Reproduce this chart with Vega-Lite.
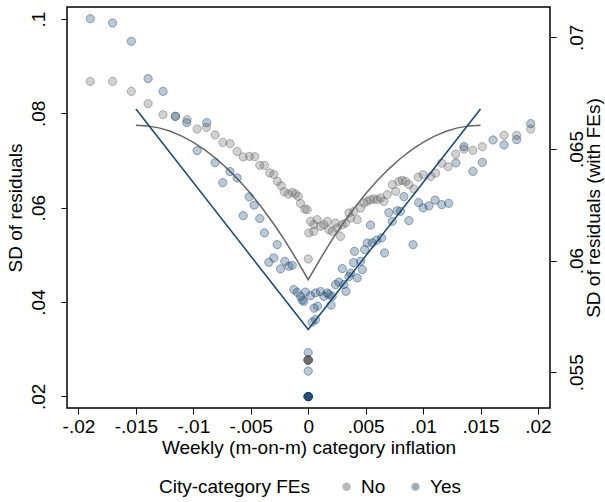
{
  "$schema": "https://vega.github.io/schema/vega-lite/v6.json",
  "width": 483,
  "height": 401,
  "autosize": {"type": "none"},
  "padding": {"left": 67, "top": 7, "right": 55, "bottom": 94},
  "background": "white",
  "config": {
    "font": "Liberation Sans",
    "view": {"stroke": "#000000", "strokeWidth": 1.5},
    "axis": {
      "grid": false, "domain": false, "tickColor": "#000000", "tickSize": 6, "tickWidth": 1,
      "labelColor": "#000000", "titleColor": "#000000", "labelFontSize": 19, "titleFontSize": 19,
      "titleFontWeight": "normal", "labelFont": "Liberation Sans", "titleFont": "Liberation Sans"
    },
    "legend": {
      "labelFont": "Liberation Sans", "titleFont": "Liberation Sans", "labelFontSize": 19, "titleFontSize": 19,
      "titleFontWeight": "normal", "labelColor": "#000000", "titleColor": "#000000"
    }
  },
  "datasets": {
    "gray": [
      {"x": -0.01897, "y": 0.08677}, {"x": -0.01703, "y": 0.08677}, {"x": -0.0154, "y": 0.08465}, {"x": -0.01394, "y": 0.08205},
      {"x": -0.01264, "y": 0.07971}, {"x": -0.01156, "y": 0.07935}, {"x": -0.01054, "y": 0.07865}, {"x": -0.00967, "y": 0.07668},
      {"x": -0.00886, "y": 0.07702}, {"x": -0.0081, "y": 0.07541}, {"x": -0.00744, "y": 0.07384}, {"x": -0.0068, "y": 0.07357},
      {"x": -0.00619, "y": 0.07193}, {"x": -0.00566, "y": 0.07075}, {"x": -0.00512, "y": 0.07087}, {"x": -0.00465, "y": 0.07081},
      {"x": -0.00422, "y": 0.06897}, {"x": -0.00381, "y": 0.06897}, {"x": -0.00335, "y": 0.06736}, {"x": -0.003, "y": 0.06706},
      {"x": -0.00268, "y": 0.06558}, {"x": -0.00235, "y": 0.06466}, {"x": -0.00209, "y": 0.06339}, {"x": -0.00174, "y": 0.0629},
      {"x": -0.00139, "y": 0.06324}, {"x": -0.00111, "y": 0.0629}, {"x": -0.00087, "y": 0.0624}, {"x": -0.00067, "y": 0.06091},
      {"x": -0.0003, "y": 0.05972}, {"x": -0.00009, "y": 0.05958}, {"x": 0, "y": 0.04913},
      {"x": 0.00005, "y": 0.05464}, {"x": 0.0002, "y": 0.0571}, {"x": 0.00049, "y": 0.05498}, {"x": 0.00049, "y": 0.0564},
      {"x": 0.00078, "y": 0.05746}, {"x": 0.00107, "y": 0.05604}, {"x": 0.00136, "y": 0.0564}, {"x": 0.00166, "y": 0.0571},
      {"x": 0.0018, "y": 0.05534}, {"x": 0.00209, "y": 0.05498}, {"x": 0.00238, "y": 0.05676}, {"x": 0.00253, "y": 0.0557},
      {"x": 0.00281, "y": 0.05392}, {"x": 0.00296, "y": 0.0564}, {"x": 0.00325, "y": 0.05676}, {"x": 0.00354, "y": 0.05888},
      {"x": 0.00369, "y": 0.05782}, {"x": 0.00397, "y": 0.05922}, {"x": 0.00427, "y": 0.05746}, {"x": 0.00456, "y": 0.05994},
      {"x": 0.00485, "y": 0.061}, {"x": 0.00514, "y": 0.06134}, {"x": 0.00543, "y": 0.0617}, {"x": 0.00572, "y": 0.06184},
      {"x": 0.00601, "y": 0.0617}, {"x": 0.0063, "y": 0.06206}, {"x": 0.00659, "y": 0.06134}, {"x": 0.00688, "y": 0.06276},
      {"x": 0.00732, "y": 0.06488}, {"x": 0.00761, "y": 0.06346}, {"x": 0.0079, "y": 0.06558}, {"x": 0.00819, "y": 0.06579},
      {"x": 0.00848, "y": 0.06558}, {"x": 0.00877, "y": 0.06488}, {"x": 0.0092, "y": 0.06396}, {"x": 0.00957, "y": 0.06647},
      {"x": 0.01, "y": 0.067}, {"x": 0.01066, "y": 0.06664}, {"x": 0.01109, "y": 0.06731}, {"x": 0.01162, "y": 0.06943},
      {"x": 0.01218, "y": 0.06869}, {"x": 0.01284, "y": 0.07134}, {"x": 0.01356, "y": 0.0724}, {"x": 0.01434, "y": 0.07215},
      {"x": 0.01516, "y": 0.07293}, {"x": 0.01705, "y": 0.07533}, {"x": 0.01815, "y": 0.07533}, {"x": 0.01937, "y": 0.07668},
      {"x": 0, "y": 0.0277}, {"x": 0, "y": 0.0277}, {"x": 0, "y": 0.0277}, {"x": 0, "y": 0.0277},
      {"x": 0, "y": 0.0277}, {"x": 0, "y": 0.0277}, {"x": 0, "y": 0.0277}, {"x": 0, "y": 0.0277}
    ],
    "blue": [
      {"x": -0.01897, "y": 0.070838}, {"x": -0.01703, "y": 0.070645}, {"x": -0.0154, "y": 0.069821}, {"x": -0.01394, "y": 0.068151},
      {"x": -0.01264, "y": 0.067582}, {"x": -0.01156, "y": 0.066463}, {"x": -0.01058, "y": 0.066181}, {"x": -0.00884, "y": 0.066181},
      {"x": -0.00967, "y": 0.064927}, {"x": -0.0081, "y": 0.06439}, {"x": -0.00744, "y": 0.063494}, {"x": -0.00681, "y": 0.063987},
      {"x": -0.00619, "y": 0.063705}, {"x": -0.00514, "y": 0.062854}, {"x": -0.00471, "y": 0.062487}, {"x": -0.00566, "y": 0.062017},
      {"x": -0.00422, "y": 0.061882}, {"x": -0.00381, "y": 0.061242}, {"x": -0.0027, "y": 0.060718}, {"x": -0.00343, "y": 0.059925},
      {"x": -0.003, "y": 0.060122}, {"x": -0.00204, "y": 0.05997}, {"x": -0.00241, "y": 0.05963}, {"x": -0.00169, "y": 0.059746},
      {"x": -0.00139, "y": 0.059791}, {"x": -0.00125, "y": 0.058703}, {"x": -0.00096, "y": 0.058582}, {"x": -0.00067, "y": 0.058403},
      {"x": -0.00024, "y": 0.058591}, {"x": -0.00052, "y": 0.058233}, {"x": -0.00038, "y": 0.058179},
      {"x": 0, "y": 0.055882}, {"x": 0, "y": 0.055054},
      {"x": 0.0002, "y": 0.058434}, {"x": 0.00064, "y": 0.058555}, {"x": 0.00051, "y": 0.057875}, {"x": 0.00081, "y": 0.057964},
      {"x": 0.00107, "y": 0.058613}, {"x": 0.00136, "y": 0.058403}, {"x": 0.00166, "y": 0.058555}, {"x": 0.0018, "y": 0.058479},
      {"x": 0.00209, "y": 0.058403}, {"x": 0.00199, "y": 0.058009}, {"x": 0.00035, "y": 0.057248}, {"x": 0.00064, "y": 0.05736},
      {"x": 0.00238, "y": 0.058927}, {"x": 0.00267, "y": 0.059039}, {"x": 0.00296, "y": 0.059643}, {"x": 0.0031, "y": 0.058927},
      {"x": 0.00329, "y": 0.058627}, {"x": 0.00354, "y": 0.059285}, {"x": 0.00369, "y": 0.059442}, {"x": 0.00395, "y": 0.059912},
      {"x": 0.00427, "y": 0.059227}, {"x": 0.00471, "y": 0.059599}, {"x": 0.00456, "y": 0.05997}, {"x": 0.00403, "y": 0.060418},
      {"x": 0.00491, "y": 0.060494}, {"x": 0.00514, "y": 0.060794}, {"x": 0.00543, "y": 0.061591}, {"x": 0.00558, "y": 0.060794},
      {"x": 0.00595, "y": 0.06092}, {"x": 0.00639, "y": 0.061018}, {"x": 0.00665, "y": 0.060346}, {"x": 0.00702, "y": 0.062151},
      {"x": 0.00732, "y": 0.061761}, {"x": 0.00776, "y": 0.06224}, {"x": 0.00804, "y": 0.062209}, {"x": 0.00833, "y": 0.062867},
      {"x": 0.00877, "y": 0.061793}, {"x": 0.00913, "y": 0.060718}, {"x": 0.00961, "y": 0.062599}, {"x": 0.01, "y": 0.062361},
      {"x": 0.01051, "y": 0.062451}, {"x": 0.01105, "y": 0.062711}, {"x": 0.01162, "y": 0.062509}, {"x": 0.01223, "y": 0.062567},
      {"x": 0.01286, "y": 0.064376}, {"x": 0.01356, "y": 0.065106}, {"x": 0.01434, "y": 0.064}, {"x": 0.01516, "y": 0.064403},
      {"x": 0.01609, "y": 0.065406}, {"x": 0.01705, "y": 0.065182}, {"x": 0.01815, "y": 0.06542}, {"x": 0.01937, "y": 0.066136},
      {"x": 0, "y": 0.053912}, {"x": 0, "y": 0.053912}, {"x": 0, "y": 0.053912}, {"x": 0, "y": 0.053912},
      {"x": 0, "y": 0.053912}, {"x": 0, "y": 0.053912}, {"x": 0, "y": 0.053912}, {"x": 0, "y": 0.053912}
    ],
    "graycurve": [
      {"x": -0.015, "y": 0.07749}, {"x": -0.014, "y": 0.07734}, {"x": -0.013, "y": 0.07692}, {"x": -0.012, "y": 0.0762},
      {"x": -0.011, "y": 0.07518}, {"x": -0.01, "y": 0.07386}, {"x": -0.009, "y": 0.07225}, {"x": -0.008, "y": 0.07037},
      {"x": -0.007, "y": 0.06818}, {"x": -0.006, "y": 0.0657}, {"x": -0.005, "y": 0.06295}, {"x": -0.004, "y": 0.05989},
      {"x": -0.003, "y": 0.05654}, {"x": -0.002, "y": 0.0529}, {"x": -0.001, "y": 0.04896}, {"x": 0, "y": 0.04474},
      {"x": 0.001, "y": 0.04896}, {"x": 0.002, "y": 0.0529}, {"x": 0.003, "y": 0.05654}, {"x": 0.004, "y": 0.05989},
      {"x": 0.005, "y": 0.06295}, {"x": 0.006, "y": 0.0657}, {"x": 0.007, "y": 0.06818}, {"x": 0.008, "y": 0.07037},
      {"x": 0.009, "y": 0.07225}, {"x": 0.01, "y": 0.07386}, {"x": 0.011, "y": 0.07518}, {"x": 0.012, "y": 0.0762},
      {"x": 0.013, "y": 0.07692}, {"x": 0.014, "y": 0.07734}, {"x": 0.015, "y": 0.07749}
    ],
    "blueline": [
      {"x": -0.015, "y": 0.066794}, {"x": 0, "y": 0.056912}, {"x": 0.015, "y": 0.066794}
    ]
  },
  "encoding": {
    "x": {
      "field": "x", "type": "quantitative",
      "scale": {"domain": [-0.021, 0.02105], "nice": false, "zero": false},
      "axis": {
        "values": [-0.02, -0.015, -0.01, -0.005, 0, 0.005, 0.01, 0.015, 0.02],
        "labelExpr": "replace(replace(format(datum.value, '.3~f'), '0.', '.'), '\u2212', '-')",
        "title": "Weekly (m-on-m) category inflation",
        "labelPadding": 3, "titlePadding": 2, "labelFlush": false
      }
    }
  },
  "layer": [
    {
      "encoding": {
        "y": {
          "field": "y", "type": "quantitative",
          "scale": {"domain": [0.01754, 0.10254], "nice": false, "zero": false},
          "axis": {
            "orient": "left",
            "values": [0.02, 0.04, 0.06, 0.08, 0.1],
            "labelExpr": "replace(format(datum.value, '.3~f'), '0.', '.')",
            "labelAngle": 270, "labelAlign": "center", "labelBaseline": "bottom",
            "labelPadding": 13, "labelFlush": false,
            "title": "SD of residuals", "titlePadding": 4, "titleAngle": 270
          }
        }
      },
      "layer": [
        {
          "data": {"name": "gray"},
          "mark": {"type": "circle", "size": 68, "fillOpacity": 0.3, "stroke": "#666666", "strokeOpacity": 0.45, "strokeWidth": 1},
          "encoding": {
            "color": {
              "datum": "No", "type": "nominal",
              "scale": {"domain": ["No", "Yes"], "range": ["#666666", "#1a476f"]},
              "legend": {
                "title": "City-category FEs", "orient": "none", "direction": "horizontal", "titleOrient": "left",
                "legendX": 92, "legendY": 470, "symbolType": "circle", "symbolSize": 50,
                "titlePadding": 27, "labelOffset": 5, "columnPadding": 20,
                "symbolOpacity": 0.45,
                "encode": {
                  "symbols": {"update": {"strokeWidth": {"value": 1.2}, "stroke": {"scale": "color", "field": "value"}}}
                }
              }
            }
          }
        },
        {
          "data": {"name": "graycurve"},
          "mark": {"type": "line", "color": "#666666", "strokeWidth": 1.5},
          "encoding": {}
        }
      ]
    },
    {
      "encoding": {
        "y": {
          "field": "y", "type": "quantitative",
          "scale": {"domain": [0.0534, 0.07136], "nice": false, "zero": false},
          "axis": {
            "orient": "right",
            "values": [0.055, 0.06, 0.065, 0.07],
            "labelExpr": "replace(format(datum.value, '.3~f'), '0.', '.')",
            "labelAngle": 270, "labelAlign": "center", "labelBaseline": "top",
            "labelPadding": 11, "labelFlush": false,
            "title": "SD of residuals (with FEs)", "titlePadding": -2, "titleAngle": 270, "titleBaseline": "top"
          }
        }
      },
      "layer": [
        {
          "data": {"name": "blue"},
          "mark": {"type": "circle", "size": 68, "fillOpacity": 0.3, "stroke": "#1a476f", "strokeOpacity": 0.45, "strokeWidth": 1},
          "encoding": {
            "color": {"datum": "Yes", "type": "nominal"}
          }
        },
        {
          "data": {"name": "blueline"},
          "mark": {"type": "line", "color": "#1a476f", "strokeWidth": 1.5},
          "encoding": {}
        }
      ]
    }
  ],
  "resolve": {"scale": {"y": "independent"}}
}
